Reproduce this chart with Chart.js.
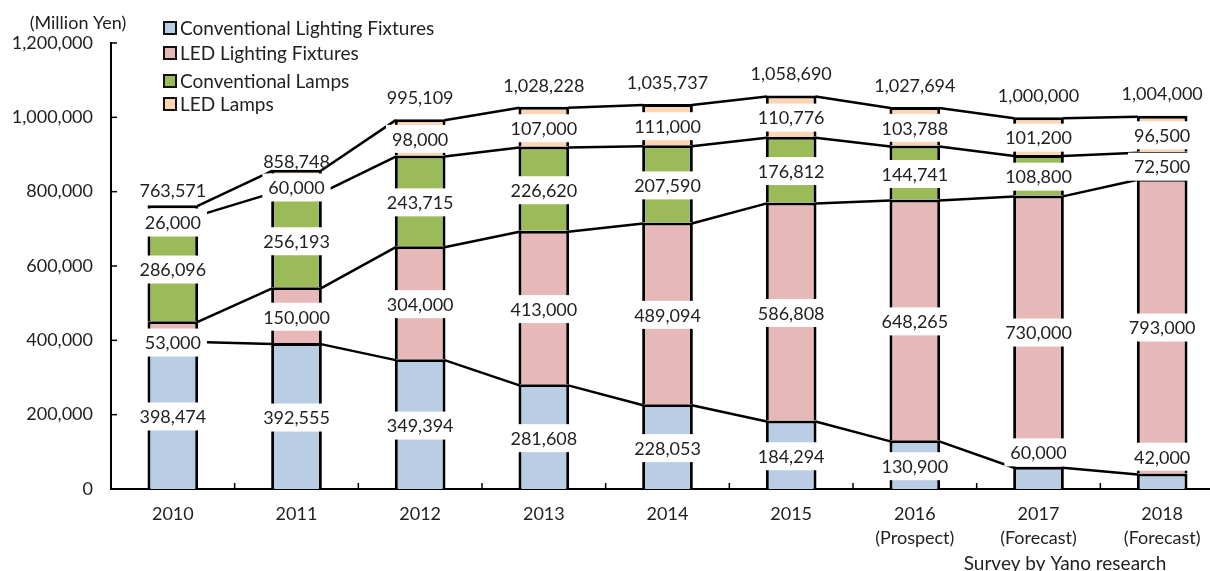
<!DOCTYPE html>
<html>
<head>
<meta charset="utf-8">
<script src="https://cdn.jsdelivr.net/npm/chart.js@4.4.0/dist/chart.umd.min.js"></script>
<style>
  html, body { margin: 0; padding: 0; background: #fff; overflow: hidden; }
  #wrap { position: relative; width: 1224px; height: 571px; }
</style>
</head>
<body>
<div id="wrap"><canvas id="chart" width="1224" height="571"></canvas></div>
<script>
const years = ['2010', '2011', '2012', '2013', '2014', '2015',
  ['2016', '(Prospect)'], ['2017', '(Forecast)'], ['2018', '(Forecast)']];

const convFixtures = [398474, 392555, 349394, 281608, 228053, 184294, 130900, 60000, 42000];
const ledFixtures  = [53000, 150000, 304000, 413000, 489094, 586808, 648265, 730000, 793000];
const convLamps    = [286096, 256193, 243715, 226620, 207590, 176812, 144741, 108800, 72500];
const ledLamps     = [26000, 60000, 98000, 107000, 111000, 110776, 103788, 101200, 96500];
const totals       = [763571, 858748, 995109, 1028228, 1035737, 1058690, 1027694, 1000000, 1004000];

const yTicks = [0, 200000, 400000, 600000, 800000, 1000000, 1200000];

// label nudges in px (where the original moved a label off the segment centre)
const segNudge = [
  [0, 0, 0, 0, 0, 0, 0, -27, -26],
  [10, 0, 0, 0, 0, 0, 0, 0, 0],
  [0, 0, 0, 0, 0, 0, 0, 0, 0],
  [11, 5, 0, 0, 0, 0, 0, 0, 0]
];
const totalNudge = [7, 13, 0, 0, 0, 0, 0, 0, -1];

const FONT = 'Lato, "Open Sans", sans-serif';
const TEXT = '#222';
const fmt = v => v.toLocaleString('en-US');

const series = [
  { label: 'Conventional Lighting Fixtures', data: convFixtures, color: '#b9cde5' },
  { label: 'LED Lighting Fixtures', data: ledFixtures, color: '#e6b9b8' },
  { label: 'Conventional Lamps', data: convLamps, color: '#9bbb59' },
  { label: 'LED Lamps', data: ledLamps, color: '#fcd5b5' }
];

const extras = {
  id: 'extras',
  afterDatasetsDraw(chart) {
    const ctx = chart.ctx;
    ctx.save();

    // series lines between bars
    ctx.strokeStyle = '#000';
    ctx.lineWidth = 2.5;
    chart.data.datasets.forEach((ds, k) => {
      const bars = chart.getDatasetMeta(k).data;
      for (let i = 0; i < bars.length - 1; i++) {
        const a = bars[i], b = bars[i + 1];
        ctx.beginPath();
        ctx.moveTo(a.x + a.width / 2 - 1, a.y + 1);
        ctx.lineTo(b.x - b.width / 2 + 1, b.y + 1);
        ctx.stroke();
      }
    });

    // segment labels on white boxes
    ctx.font = '18px ' + FONT;
    ctx.textAlign = 'center';
    ctx.textBaseline = 'middle';
    chart.data.datasets.forEach((ds, k) => {
      const bars = chart.getDatasetMeta(k).data;
      bars.forEach((el, i) => {
        const txt = fmt(ds.data[i]);
        const y = (el.y + el.base) / 2 + 1.5 + segNudge[k][i];
        const w = ctx.measureText(txt).width + 12;
        ctx.fillStyle = '#fff';
        ctx.fillRect(el.x - w / 2, y - 14, w, 28);
        ctx.fillStyle = TEXT;
        ctx.fillText(txt, el.x, y + 1);
      });
    });

    // totals above the stacks
    const top = chart.getDatasetMeta(chart.data.datasets.length - 1).data;
    top.forEach((el, i) => {
      ctx.fillStyle = TEXT;
      ctx.fillText(fmt(totals[i]), el.x, el.y - 21 + totalNudge[i]);
    });
    ctx.restore();
  },
  afterDraw(chart) {
    const ctx = chart.ctx;
    const area = chart.chartArea;
    const ys = chart.scales.y, xs = chart.scales.x;
    ctx.save();

    // inside tick marks
    ctx.strokeStyle = '#000';
    ctx.lineWidth = 1.5;
    yTicks.forEach(v => {
      const y = ys.getPixelForValue(v);
      ctx.beginPath();
      ctx.moveTo(area.left, y);
      ctx.lineTo(area.left + 6, y);
      ctx.stroke();
    });
    for (let i = 1; i < years.length; i++) {
      const x = (xs.getPixelForValue(i - 1) + xs.getPixelForValue(i)) / 2;
      ctx.beginPath();
      ctx.moveTo(x, area.bottom);
      ctx.lineTo(x, area.bottom - 6);
      ctx.stroke();
    }

    // legend
    ctx.font = '19px ' + FONT;
    ctx.textAlign = 'left';
    ctx.textBaseline = 'middle';
    const legendY = [28, 53, 81, 104];
    series.forEach((s, k) => {
      const y = legendY[k];
      ctx.fillStyle = s.color;
      ctx.fillRect(164, y - 6, 12, 12);
      ctx.strokeStyle = '#111';
      ctx.lineWidth = 2;
      ctx.strokeRect(164, y - 6, 12, 12);
      ctx.fillStyle = TEXT;
      ctx.fillText(s.label, 180, y + 1);
    });

    // unit and source notes
    ctx.textAlign = 'center';
    ctx.fillText('Survey by Yano research', 1065, 564);
    ctx.font = '18px ' + FONT;
    ctx.fillText('(Million Yen)', 78, 23);
    ctx.restore();
  }
};

new Chart(document.getElementById('chart'), {
  type: 'bar',
  data: {
    labels: years,
    datasets: series.map(s => ({
      label: s.label,
      data: s.data,
      backgroundColor: s.color,
      borderColor: '#000',
      borderWidth: 3,
      borderSkipped: 'start',
      barPercentage: 0.41,
      categoryPercentage: 1.0
    }))
  },
  options: {
    responsive: false,
    animation: false,
    layout: { padding: { top: 43, right: 0, bottom: 0, left: 0 } },
    plugins: {
      legend: { display: false },
      tooltip: { enabled: false }
    },
    scales: {
      x: {
        stacked: true,
        grid: { display: false, drawTicks: false },
        border: { display: true, color: '#000', width: 2 },
        ticks: {
          color: TEXT,
          padding: 13,
          font: { family: FONT, size: 18, lineHeight: 1.35 },
          maxRotation: 0
        },
        afterFit(scale) { scale.height = 82; }
      },
      y: {
        stacked: true,
        min: 0,
        max: 1200000,
        grid: { display: false, drawTicks: false },
        border: { display: true, color: '#000', width: 2 },
        ticks: {
          stepSize: 200000,
          color: TEXT,
          padding: 18,
          font: { family: FONT, size: 18 },
          callback: v => fmt(v)
        },
        afterFit(scale) { scale.width = 111; }
      }
    }
  },
  plugins: [extras]
});
</script>
</body>
</html>
